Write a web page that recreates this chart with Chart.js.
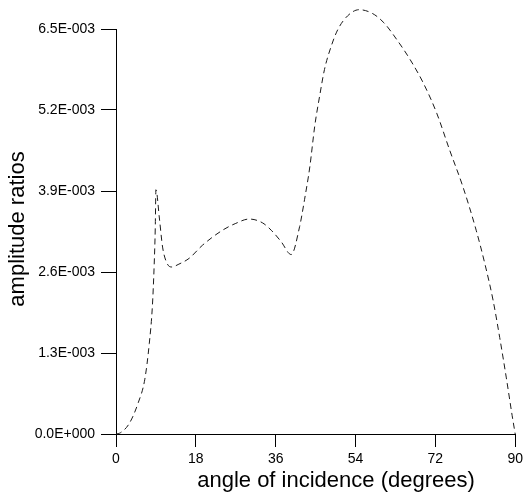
<!DOCTYPE html>
<html>
<head>
<meta charset="utf-8">
<script src="https://cdn.jsdelivr.net/npm/chart.js@4"></script>
<style>
  html, body { margin: 0; padding: 0; background: #fff; }
  #wrap { width: 527px; height: 493px; }
</style>
</head>
<body>
<div id="wrap"><canvas id="chart" width="527" height="493"></canvas></div>
<script>
// angle of incidence (degrees)
const angles = [0, 1, 3, 5, 6.5, 7.5, 8.2, 8.6, 8.85, 9.0, 9.8, 10.5, 11.5, 12.6, 14, 16.5, 19.5, 24, 27, 30,
    33, 35, 37.2, 39.5, 41.4, 42.5, 43.7, 44.8, 45.9, 47.0, 48.5, 50.0, 52.2, 54.8, 57.8, 60.4, 63.3, 66.3,
    69.3, 72.3, 75.2, 78.2, 81.2, 83.2, 85, 86.5, 88, 89.3, 90]
// amplitude ratios
const ratios = [0, 0.00002, 0.00017, 0.0005, 0.00088, 0.00145, 0.00205, 0.0027, 0.0033, 0.00392, 0.00345,
    0.003, 0.00274, 0.00268, 0.00272, 0.00282, 0.00303, 0.00327, 0.00338, 0.00345,
    0.00339, 0.00327, 0.00309, 0.00288, 0.00333, 0.00376, 0.00429, 0.00494, 0.00542, 0.00585, 0.00622,
    0.00649, 0.00671, 0.00681, 0.00675, 0.0066, 0.00633, 0.00601,
    0.00563, 0.00515, 0.00456, 0.00397, 0.00327, 0.00272, 0.00215, 0.00155, 0.0009, 0.0003, 0]

const xTicks = [0, 18, 36, 54, 72, 90]
const yTicks = [0, 0.0013, 0.0026, 0.0039, 0.0052, 0.0065]

const xTitle = 'angle of incidence (degrees)'
const yTitle = 'amplitude ratios'

const FONT = '"Liberation Sans", Helvetica, Arial, sans-serif'

const fmtExp = (v) => {
    let parts = v.toExponential(1).split('e')
    let sign = parts[1][0]
    let digits = parts[1].slice(1).padStart(3, '0')
    return parts[0] + 'E' + sign + digits
}

const titlesPlugin = {
    id: 'axisTitles',
    afterDraw(chart) {
        const ctx = chart.ctx
        ctx.save()
        ctx.fillStyle = '#000'
        ctx.font = '22px ' + FONT
        ctx.textAlign = 'center'
        ctx.textBaseline = 'alphabetic'
        ctx.fillText(xTitle, 336, 487)

        ctx.font = '22px ' + FONT
        ctx.translate(24, 229)
        ctx.rotate(-Math.PI / 2)
        ctx.fillText(yTitle, 0, 0)
        ctx.restore()
    }
}

const data = {
    datasets: [{
        data: angles.map((a, i) => ({x: a, y: ratios[i]})),
        borderColor: '#1a1a1a',
        borderWidth: 1,
        borderDash: [6, 4],
        pointRadius: 0,
        fill: false,
        cubicInterpolationMode: 'monotone',
        clip: false
    }]
}

const config = {
    type: 'line',
    data: data,
    options: {
        responsive: false,
        animation: false,
        layout: {
            padding: {top: 29, right: 7, left: 0, bottom: 0}
        },
        plugins: {
            legend: {display: false},
            tooltip: {enabled: false}
        },
        scales: {
            x: {
                type: 'linear',
                min: 0,
                max: 90,
                afterFit: (s) => { s.height = 59 },
                afterBuildTicks: (s) => { s.ticks = xTicks.map(v => ({value: v})) },
                border: {display: true, color: '#000', width: 1},
                grid: {display: true, drawOnChartArea: false, drawTicks: true, tickLength: 13, tickColor: '#000'},
                ticks: {
                    color: '#000',
                    padding: 4,
                    maxRotation: 0,
                    autoSkip: false,
                    font: {family: FONT, size: 14},
                    callback: (v) => String(v)
                }
            },
            y: {
                type: 'linear',
                min: 0,
                max: 0.0065,
                afterFit: (s) => { s.width = 116 },
                afterBuildTicks: (s) => { s.ticks = yTicks.map(v => ({value: v})) },
                border: {display: true, color: '#000', width: 1},
                grid: {display: true, drawOnChartArea: false, drawTicks: true, tickLength: 15, tickColor: '#000'},
                ticks: {
                    color: '#000',
                    padding: 6,
                    autoSkip: false,
                    font: {family: FONT, size: 14},
                    callback: (v) => fmtExp(v)
                }
            }
        }
    },
    plugins: [titlesPlugin]
}

let ctx = document.querySelector('#chart').getContext('2d')
const myChart = new Chart(ctx, config)
</script>
</body>
</html>
